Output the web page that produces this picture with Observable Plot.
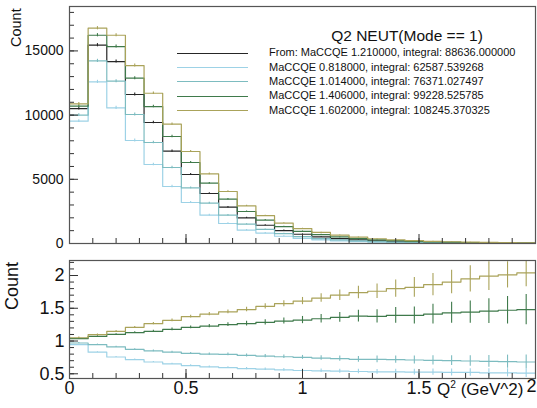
<!DOCTYPE html>
<html>
<head>
<meta charset="utf-8">
<script src="https://cdn.jsdelivr.net/npm/d3@7"></script>
<script src="https://cdn.jsdelivr.net/npm/@observablehq/plot@0.6"></script>
<style>
  body { margin: 0; background: #fff; }
  #wrap { position: relative; width: 537px; height: 408px; overflow: hidden; background: #fff;
          font-family: "Liberation Sans", Arial, Helvetica, sans-serif; color: #111; }
  #top, #bottom { position: absolute; left: 0; }
  #top { top: 0; }
  #bottom { top: 250px; }
  .ylab { position: absolute; transform-origin: 0 0; transform: rotate(-90deg); white-space: nowrap; }
  .title { position: absolute; white-space: nowrap; }
  .legline { position: absolute; height: 0; border-top: 1.2px solid; }
  .legtext { position: absolute; font-size: 11px; white-space: nowrap; line-height: 1; }
  sup { font-size: 60%; vertical-align: 0.7em; line-height: 0; }
</style>
</head>
<body>
<div id="wrap">
  <div id="top"></div>
  <div id="bottom"></div>
</div>
<script>
// Q^2 binning (GeV^2): 25 bins from 0 to 2
const binEdges = [0, 0.08, 0.16, 0.24, 0.32, 0.40, 0.48, 0.56, 0.64, 0.72, 0.80, 0.88, 0.96,
                  1.04, 1.12, 1.20, 1.28, 1.36, 1.44, 1.52, 1.60, 1.68, 1.76, 1.84, 1.92, 2.00];

// Event counts per bin, nominal and reweighted MaCCQE
const countsNominal = [10511, 15444, 14174, 11604, 9423, 7188, 5374, 3894, 2827, 1994, 1420, 1010, 720,
                       520, 380, 280, 210, 160, 120, 90, 70, 55, 42, 33, 26];
const counts0818 = [9525, 12587, 10562, 8021, 6152, 4439, 3193, 2204, 1558, 1036, 809, 566, 396,
                    283, 205, 150, 111, 85, 63, 47, 36, 29, 22, 17, 13];
const counts1014 = [9992, 14222, 12640, 10046, 7866, 5919, 4330, 3139, 2204, 1503, 1093, 768, 540,
                    385, 277, 202, 151, 114, 85, 63, 49, 38, 29, 23, 18];
const counts1406 = [10693, 16222, 15342, 12874, 10669, 8333, 6308, 4696, 3450, 2492, 1825, 1320, 950,
                    697, 517, 386, 289, 222, 167, 127, 100, 79, 61, 49, 38];
const counts1602 = [10875, 16768, 16222, 13862, 11705, 9291, 7165, 5421, 4050, 2928, 2170, 1590, 1160,
                    860, 650, 490, 370, 290, 220, 170, 135, 105, 85, 66, 53];
// statistical uncertainty on the counts
const countErr = [105, 125, 120, 110, 100, 90, 75, 65, 55, 45, 40, 33, 28, 24, 20, 18, 15, 13, 11, 10, 9, 8, 7, 6, 5];

// Ratio to nominal, with uncertainties
const ratio0818 = [0.945, 0.83, 0.756, 0.716, 0.68, 0.65, 0.625, 0.605, 0.594, 0.58, 0.57, 0.56, 0.55,
                   0.545, 0.54, 0.535, 0.53, 0.53, 0.525, 0.525, 0.52, 0.52, 0.515, 0.515, 0.51];
const ratio1014 = [0.97, 0.945, 0.91, 0.873, 0.85, 0.83, 0.81, 0.80, 0.797, 0.78, 0.77, 0.76, 0.75,
                   0.74, 0.73, 0.72, 0.72, 0.715, 0.71, 0.705, 0.70, 0.695, 0.69, 0.685, 0.68];
const ratio1406 = [1.036, 1.07, 1.10, 1.127, 1.148, 1.178, 1.209, 1.227, 1.25, 1.265, 1.285, 1.305, 1.32,
                   1.34, 1.36, 1.38, 1.376, 1.39, 1.39, 1.41, 1.43, 1.44, 1.457, 1.47, 1.48];
const ratio1602 = [1.05, 1.097, 1.148, 1.209, 1.265, 1.316, 1.372, 1.41, 1.445, 1.48, 1.53, 1.57, 1.61,
                   1.655, 1.70, 1.74, 1.76, 1.80, 1.82, 1.86, 1.90, 1.95, 1.99, 2.01, 2.04];
const ratioErr0818 = [0.006, 0.006, 0.007, 0.008, 0.009, 0.01, 0.012, 0.013, 0.015, 0.017, 0.019, 0.021, 0.024,
                      0.027, 0.03, 0.033, 0.036, 0.04, 0.044, 0.048, 0.052, 0.056, 0.06, 0.062, 0.065];
const ratioErr1014 = [0.008, 0.008, 0.01, 0.01, 0.012, 0.014, 0.016, 0.018, 0.02, 0.022, 0.025, 0.028, 0.03,
                      0.035, 0.04, 0.045, 0.05, 0.055, 0.06, 0.07, 0.075, 0.08, 0.09, 0.1, 0.105];
const ratioErr1406 = [0.01, 0.01, 0.012, 0.014, 0.016, 0.02, 0.022, 0.026, 0.03, 0.035, 0.04, 0.045, 0.055,
                      0.065, 0.075, 0.09, 0.1, 0.12, 0.13, 0.15, 0.16, 0.17, 0.19, 0.21, 0.23];
const ratioErr1602 = [0.01, 0.01, 0.012, 0.014, 0.016, 0.02, 0.022, 0.026, 0.03, 0.035, 0.04, 0.045, 0.055,
                      0.065, 0.08, 0.095, 0.11, 0.13, 0.15, 0.17, 0.18, 0.2, 0.22, 0.2, 0.21];

const legendLabels = [
  "From: MaCCQE 1.210000, integral: 88636.000000",
  "MaCCQE 0.818000, integral: 62587.539268",
  "MaCCQE 1.014000, integral: 76371.027497",
  "MaCCQE 1.406000, integral: 99228.525785",
  "MaCCQE 1.602000, integral: 108245.370325"
];
const seriesColors = ["#262626", "#9dd2e6", "#7dbcc0", "#3f7a4b", "#aaa35a"];

const plotTitle = "Q2 NEUT(Mode == 1)";
const xTicks = [0, 0.5, 1, 1.5, 2];
const yTicksTop = [0, 5000, 10000, 15000];
const yTicksBottom = [0.5, 1, 1.5, 2];

const font = '"Liberation Sans", Arial, Helvetica, sans-serif';
const frameColor = "#555";

// histogram outline points (left edges + closing right edge)
function stepPoints(values) {
  const pts = values.map((v, i) => ({x: binEdges[i], y: v}));
  pts.push({x: binEdges[binEdges.length - 1], y: values[values.length - 1]});
  return pts;
}
function errPoints(values, errs) {
  return values.map((v, i) => ({x: (binEdges[i] + binEdges[i + 1]) / 2, lo: v - errs[i], hi: v + errs[i]}));
}
function histMarks(values, errs, color) {
  return [
    Plot.line(stepPoints(values), {x: "x", y: "y", curve: "step-after", stroke: color, strokeWidth: 1.2, clip: true}),
    Plot.ruleX(errPoints(values, errs), {x: "x", y1: "lo", y2: "hi", stroke: color, strokeWidth: 1.1, clip: true})
  ];
}
const minorX = d3.range(0, 2.0001, 0.1);

// ---- upper pad: distributions ----
const topCounts = [countsNominal, counts0818, counts1014, counts1406, counts1602];
const topPlot = Plot.plot({
  width: 537, height: 250,
  marginLeft: 69, marginRight: 2, marginTop: 6, marginBottom: 7,
  style: {fontFamily: font, color: "#111", background: "transparent"},
  x: {domain: [0, 2]},
  y: {domain: [0, 18460]},
  marks: [
    ...topCounts.flatMap((c, i) => histMarks(c, countErr, seriesColors[i])),
    Plot.axisX(minorX, {anchor: "bottom", tickSize: -5, fill: "none", label: null, stroke: "#333"}),
    Plot.axisX(xTicks, {anchor: "bottom", tickSize: -9, fill: "none", label: null, stroke: "#333"}),
    Plot.axisY(d3.range(0, 18001, 1000), {anchor: "left", tickSize: -5, fill: "none", label: null, stroke: "#333"}),
    Plot.axisY(yTicksTop, {anchor: "left", tickSize: -9, fill: "none", label: null, stroke: "#333"}),
    Plot.axisY(yTicksTop, {anchor: "left", tickSize: 0, tickPadding: 6, fontSize: 14, label: null,
                           tickFormat: d => String(d), fill: "#111"}),
    Plot.frame({stroke: frameColor, strokeWidth: 1.2})
  ]
});
document.getElementById("top").appendChild(topPlot);

// ---- lower pad: ratios to nominal ----
const ratios = [
  [ratio0818, ratioErr0818, seriesColors[1]],
  [ratio1014, ratioErr1014, seriesColors[2]],
  [ratio1406, ratioErr1406, seriesColors[3]],
  [ratio1602, ratioErr1602, seriesColors[4]]
];
const bottomPlot = Plot.plot({
  width: 537, height: 158,
  marginLeft: 69, marginRight: 2, marginTop: 10, marginBottom: 30,
  style: {fontFamily: font, color: "#111", background: "transparent", overflow: "visible"},
  x: {domain: [0, 2]},
  y: {domain: [0.428, 2.229]},
  marks: [
    ...ratios.flatMap(([r, e, c]) => histMarks(r, e, c)),
    Plot.axisX(minorX, {anchor: "bottom", tickSize: -5, fill: "none", label: null, stroke: "#333"}),
    Plot.axisX(xTicks, {anchor: "bottom", tickSize: -9, fill: "none", label: null, stroke: "#333"}),
    // tick labels; the last one sits at the right edge and is nudged inside
    Plot.axisX(xTicks.slice(0, -1), {anchor: "bottom", tickSize: 0, tickPadding: 3, fontSize: 18, label: null,
                        tickFormat: d => String(d), fill: "#111"}),
    Plot.axisX(xTicks.slice(-1), {anchor: "bottom", tickSize: 0, tickPadding: 1, fontSize: 18, label: null,
                        tickFormat: d => String(d), fill: "#111", dx: -4}),
    Plot.axisY(d3.range(0.5, 2.2001, 0.1), {anchor: "left", tickSize: -5, fill: "none", label: null, stroke: "#333"}),
    Plot.axisY(yTicksBottom, {anchor: "left", tickSize: -9, fill: "none", label: null, stroke: "#333"}),
    Plot.axisY(yTicksBottom, {anchor: "left", tickSize: 0, tickPadding: 5, fontSize: 18, label: null,
                              tickFormat: d => String(d), fill: "#111"}),
    Plot.frame({stroke: frameColor, strokeWidth: 1.2})
  ]
});
document.getElementById("bottom").appendChild(bottomPlot);

// ---- titles, axis labels and legend ----
const wrap = document.getElementById("wrap");
function addEl(cls, html, css) {
  const el = document.createElement("div");
  el.className = cls;
  el.innerHTML = html;
  Object.assign(el.style, css);
  wrap.appendChild(el);
  return el;
}
addEl("ylab", "Count", {left: "8px", top: "47px", fontSize: "14.5px"});
addEl("ylab", "Count", {left: "2px", top: "310px", fontSize: "18px"});
addEl("title", "Q<sup>2</sup> (GeV^2)", {left: "437px", top: "380px", fontSize: "17px"});
addEl("title", plotTitle, {left: "407px", top: "27px", fontSize: "15.5px", transform: "translateX(-50%)"});

legendLabels.forEach((label, i) => {
  const cy = 53.3 + i * 14.35;
  addEl("legline", "", {left: "177px", width: "71px", top: (cy - 0.6) + "px", borderTopColor: seriesColors[i]});
  addEl("legtext", label, {left: "269px", top: (cy - 6) + "px"});
});
</script>
</body>
</html>
